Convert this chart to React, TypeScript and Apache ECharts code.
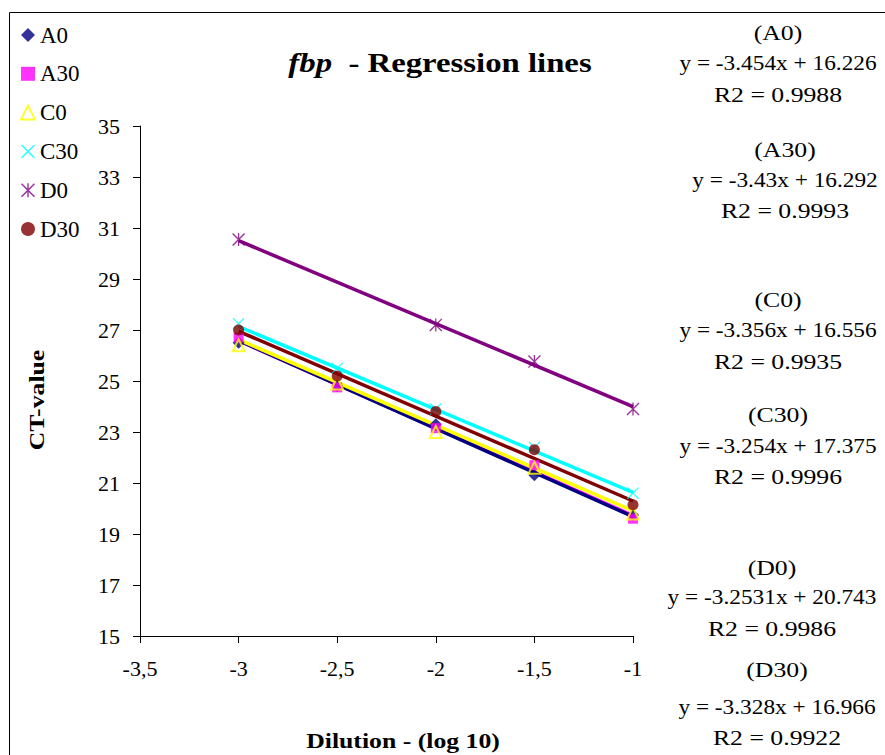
import React, { useEffect, useRef } from 'react';
import * as echarts from 'echarts';

const dilution = [-3, -2.5, -2, -1.5, -1];
const seriesNames = ['A0', 'A30', 'C0', 'C30', 'D0', 'D30'];
const A0 = [26.5, 24.8, 23.3, 21.3, 19.75];
const A30 = [26.7, 24.75, 23.15, 21.7, 19.6];
const C0 = [26.4, 24.9, 23.0, 21.6, 19.8];
const C30 = [27.25, 25.5, 23.9, 22.4, 20.6];
const D0 = [30.55, null, 27.2, 25.76, 23.9];
const D30 = [27.0, 25.2, 23.8, 22.3, 20.15];
const seriesValues = [A0, A30, C0, C30, D0, D30];

const trendX = [-3, -1];
const trendStart = [26.588, 26.582, 26.624, 27.137, 30.502, 26.95];
const trendEnd = [19.68, 19.722, 19.912, 20.629, 23.996, 20.294];

const equations = [
  'y = -3.454x + 16.226',
  'y = -3.43x + 16.292',
  'y = -3.356x + 16.556',
  'y = -3.254x + 17.375',
  'y = -3.2531x + 20.743',
  'y = -3.328x + 16.966',
];
const r2Labels = ['R2 = 0.9988', 'R2 = 0.9993', 'R2 = 0.9935', 'R2 = 0.9996', 'R2 = 0.9986', 'R2 = 0.9922'];

const colors = ['#000080', '#FF00FF', '#FFFF00', '#00FFFF', '#800080', '#800000'];

const X_PATH = 'path://M1.5,0 L20,18.5 L18.5,20 L0,1.5 Z M18.5,0 L20,1.5 L1.5,20 L0,18.5 Z';
const STAR_PATH = 'path://M1.5,0 L20,18.5 L18.5,20 L0,1.5 Z M18.5,0 L20,1.5 L1.5,20 L0,18.5 Z M9,0 L11,0 L11,20 L9,20 Z';

const FONT = '"Liberation Serif", "Times New Roman", serif';

export default function App() {
  const ref = useRef<HTMLDivElement>(null);
  useEffect(() => {
    if (!ref.current) return;
    const chart = echarts.init(ref.current, null, { renderer: 'svg', width: 885, height: 755 });

    const symbols = ['diamond', 'rect', 'triangle', X_PATH, STAR_PATH, 'circle'];
    const sizes = [12, 10, 12, 12, 13, 11];

    const lineSeries: any[] = [1, 0, 2, 5, 3, 4].map((i) => ({
      type: 'line',
      name: 'trend-' + seriesNames[i],
      data: [
        [trendX[0], trendStart[i]],
        [trendX[1], trendEnd[i]],
      ],
      symbol: 'none',
      lineStyle: { color: colors[i], width: 3.5 },
      itemStyle: { color: colors[i] },
      z: 2,
      silent: true,
    }));

    const scatterSeries: any[] = seriesNames.map((name, i) => ({
      type: 'scatter',
      name,
      data: dilution.map((x, j) => (seriesValues[i][j] == null ? null : [x, seriesValues[i][j]])).filter((d) => d),
      symbol: symbols[i],
      symbolSize: sizes[i],
      itemStyle:
        i === 2
          ? { color: 'rgba(255,255,255,0)', borderColor: colors[i], borderWidth: 2 }
          : { color: colors[i] },
      z: 3,
    }));

    const blocks = [
      { cx: 778, ys: [33, 63, 95] },
      { cx: 785, ys: [150, 180, 211] },
      { cx: 778, ys: [300, 330, 362] },
      { cx: 778, ys: [415, 446, 477] },
      { cx: 772, ys: [568, 597, 629] },
      { cx: 777, ys: [670, 707, 738] },
    ];

    const txt = (text: string, x: number, y: number, extra: any = {}) => ({
      type: 'text',
      x,
      y,
      scaleX: extra.scaleX ?? 1.17,
      rotation: extra.rotation ?? 0,
      style: {
        text,
        fontFamily: FONT,
        fontSize: extra.fontSize ?? 22,
        fontWeight: extra.fontWeight ?? 'normal',
        fill: '#000',
        textAlign: 'center',
        textVerticalAlign: 'middle',
        rich: extra.rich,
      },
    });

    const graphic: any[] = [
      {
        type: 'rect',
        shape: { x: 9.5, y: 12.5, width: 1000, height: 1000 },
        style: { fill: 'none', stroke: '#000', lineWidth: 1 },
        silent: true,
      },
      txt('{a|fbp}{b|  - Regression lines}', 440, 63, {
        rich: {
          a: { fontFamily: FONT, fontSize: 28, fontWeight: 'bold', fontStyle: 'italic' },
          b: { fontFamily: FONT, fontSize: 28, fontWeight: 'bold' },
        },
        fontSize: 28,
        fontWeight: 'bold',
      }),
      txt('CT-value', 37, 400, { fontWeight: 'bold', rotation: Math.PI / 2 }),
      txt('Dilution - (log 10)', 403, 741, { fontWeight: 'bold' }),
    ];
    blocks.forEach((b, i) => {
      graphic.push(txt('(' + seriesNames[i] + ')', b.cx, b.ys[0]));
      graphic.push(txt(equations[i], b.cx, b.ys[1], { scaleX: 1.06 }));
      graphic.push(txt(r2Labels[i], b.cx, b.ys[2]));
    });

    chart.setOption({
      animation: false,
      backgroundColor: '#fff',
      textStyle: { fontFamily: FONT },
      grid: { left: 140, right: 252, top: 126, bottom: 119, containLabel: false },
      legend: {
        data: seriesNames,
        orient: 'vertical',
        left: 20,
        top: 23.5,
        padding: 0,
        itemWidth: 14,
        itemHeight: 14,
        itemGap: 15.8,
        textStyle: { fontFamily: FONT, fontSize: 23, color: '#000', lineHeight: 22 },
        selectedMode: false,
      },
      xAxis: {
        type: 'value',
        min: -3.5,
        max: -1,
        interval: 0.5,
        axisLine: { show: true, onZero: false, lineStyle: { color: '#000', width: 1 } },
        axisTick: { show: true, inside: false, length: 7, lineStyle: { color: '#000' } },
        splitLine: { show: false },
        axisLabel: {
          color: '#000',
          fontFamily: FONT,
          fontSize: 22,
          margin: 21,
          formatter: (v: number) => String(v).replace('.', ','),
        },
      },
      yAxis: {
        type: 'value',
        min: 15,
        max: 35,
        interval: 2,
        axisLine: { show: true, onZero: false, lineStyle: { color: '#000', width: 1 } },
        axisTick: { show: true, inside: false, length: 7, lineStyle: { color: '#000' } },
        splitLine: { show: false },
        axisLabel: { color: '#000', fontFamily: FONT, fontSize: 22, margin: 20 },
      },
      series: [...lineSeries, ...scatterSeries],
      graphic,
    });

    return () => chart.dispose();
  }, []);

  return <div ref={ref} style={{ position: 'absolute', left: 0, top: 0, width: 885, height: 755 }} />;
}
